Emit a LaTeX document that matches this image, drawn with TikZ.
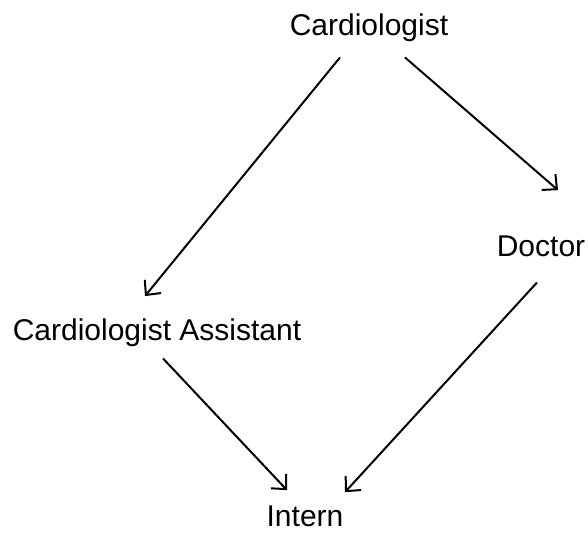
\documentclass[tikz,border=0pt]{standalone}
\usepackage{fontspec}
\setmainfont{Liberation Sans}
\usetikzlibrary{arrows.meta}
\begin{document}
\begin{tikzpicture}[x=1pt,y=1pt,
    role/.style={inner sep=0pt,anchor=base,font=\fontsize{30}{36}\selectfont},
    link/.style={line width=2pt,-{Straight Barb[length=11pt,width=21pt,line width=2pt]}}]
 \useasboundingbox (0,0) rectangle (588,533);

 \node[role] (card)   at (369,497) {Cardiologist};
 \node[role] (doc)    at (541,276) {Doctor};
 \node[role] (asst)   at (157,193) {Cardiologist Assistant};
 \node[role] (intern) at (305,7)   {Intern};

 \draw[link] ([shift={(-29,-15)}]card.south) -- ([shift={(-12,22)}]asst.north);
 \draw[link] ([shift={(36,-15)}]card.south)  -- ([shift={(17,46)}]doc.north);
 \draw[link] ([shift={(-4,-25)}]doc.south)   -- ([shift={(40,13)}]intern.north);
 \draw[link] ([shift={(6,-12)}]asst.south)   -- ([shift={(-18,15)}]intern.north);

\end{tikzpicture}
\end{document}
